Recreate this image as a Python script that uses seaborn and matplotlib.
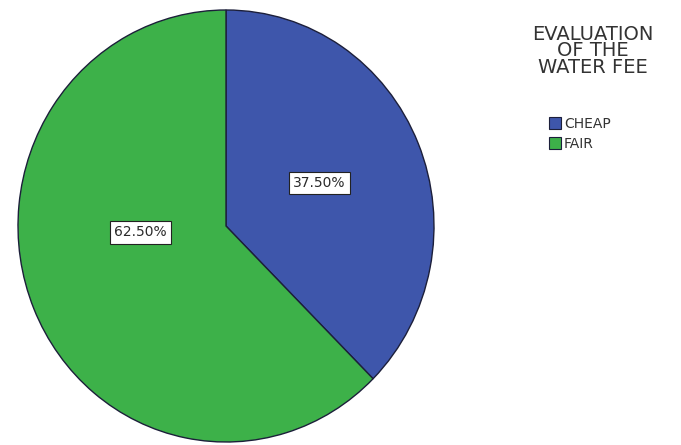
import matplotlib
matplotlib.use("Agg")
import matplotlib.pyplot as plt
import seaborn as sns

# Share of respondents by how they rate the water fee
categories = ["CHEAP", "FAIR"]
shares = [37.5, 62.5]
legend_title = "EVALUATION\nOF THE\nWATER FEE"

sns.set_theme(style="white")
plt.rcParams["font.family"] = ["DejaVu Sans"]

colors = ["#3E56AB", "#3DB149"]
edge = "#1c1f3a"

W, H = 681, 445
fig = plt.figure(figsize=(W / 100, H / 100), dpi=100)
fig.patch.set_facecolor("white")

# pie area: centre (226, 226) px, radii 208 x 216 px
cx, cy, rx, ry = 226, 226, 208, 216
ax = fig.add_axes([(cx - rx) / W, (H - cy - ry) / H, 2 * rx / W, 2 * ry / H])

wedges, _, autotexts = ax.pie(
    shares,
    colors=colors,
    startangle=90,
    counterclock=False,
    autopct=lambda p: f"{p:.2f}%",
    pctdistance=0.5,
    wedgeprops=dict(edgecolor=edge, linewidth=1.0),
    textprops=dict(fontsize=10, color="#2a2a2a"),
)
ax.set_aspect("auto")
ax.set_xlim(-1, 1)
ax.set_ylim(-1, 1)
ax.axis("off")
for w in wedges:
    w.set_clip_on(False)

# label placement inside each slice
label_xy = [(0.45, 0.20), (-0.41, -0.03)]
for t, (lx, ly) in zip(autotexts, label_xy):
    t.set_position((lx, ly))
    t.set_ha("center")
    t.set_va("center")
    t.set_bbox(dict(boxstyle="square,pad=0.3", facecolor="white",
                    edgecolor="#222222", linewidth=0.8))

# legend title and entries
fig.text(593 / W, 1 - 51 / H, legend_title, ha="center", va="center",
         multialignment="center", fontsize=14, color="#333333",
         linespacing=0.85)

handles = [plt.Rectangle((0, 0), 1, 1, facecolor=c, edgecolor=edge, linewidth=0.8)
           for c in colors]
leg = fig.legend(handles, categories, loc="upper left",
                 bbox_to_anchor=(546 / W, 1 - 114 / H),
                 frameon=False, fontsize=10, handlelength=0.85, handleheight=1.0,
                 handletextpad=0.25, labelspacing=0.45, borderaxespad=0,
                 borderpad=0.2)
for txt in leg.get_texts():
    txt.set_color("#333333")

fig.savefig("out.png", dpi=100, facecolor="white")
